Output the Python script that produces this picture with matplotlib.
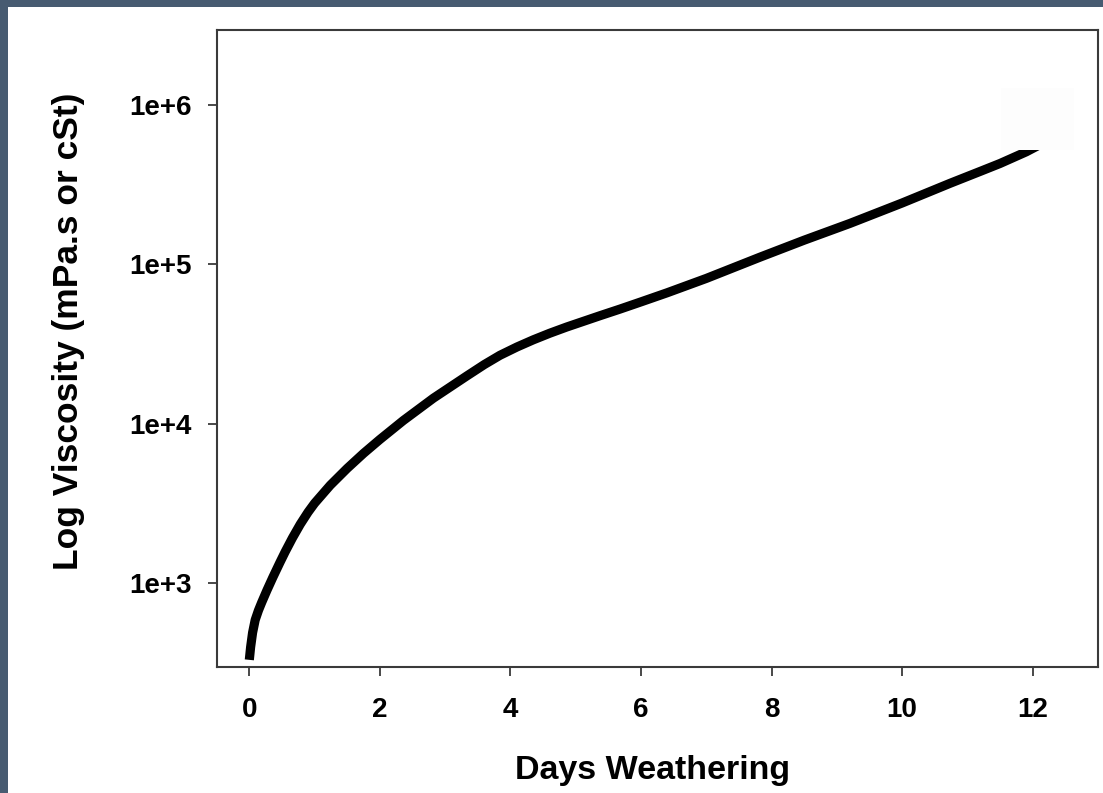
import matplotlib
matplotlib.use("Agg")
import matplotlib.pyplot as plt
from matplotlib.patches import Rectangle

# ---- data ----
days = [0.0, 0.02, 0.05, 0.09, 0.14, 0.19, 0.27, 0.36, 0.47, 0.55, 0.66, 0.78,
        0.9, 1.0, 1.24, 1.5, 1.75, 2.0, 2.36, 2.82, 3.33, 3.6, 3.84, 4.1, 4.35,
        4.6, 4.86, 5.37, 5.68, 6.0, 6.4, 7.0, 7.82, 8.5, 9.2, 10.0, 10.73, 11.2,
        11.5, 11.9, 12.2, 12.4]
viscosity = [331, 398, 490, 589, 676, 759, 904, 1089, 1354, 1578, 1923, 2344,
             2793, 3177, 4121, 5260, 6531, 7980, 10500, 14490, 19950, 23550,
             26920, 30340, 33650, 36980, 40460, 47640, 52480, 58210, 66370,
             81660, 110900, 141900, 180700, 242700, 322000, 383700, 429500,
             508000, 589000, 660000]

y_ticks = [1e3, 1e4, 1e5, 1e6]
y_tick_labels = ["1e+3", "1e+4", "1e+5", "1e+6"]
x_ticks = [0, 2, 4, 6, 8, 10, 12]
x_tick_labels = ["0", "2", "4", "6", "8", "10", "12"]

x_label = "Days Weathering"
y_label = "Log Viscosity (mPa.s or cSt)"

# ---- figure ----
plt.rcParams['font.family'] = ['Liberation Sans', 'DejaVu Sans']
W, H = 1103, 793
fig = plt.figure(figsize=(W / 100, H / 100), dpi=100)
fig.patch.set_facecolor("white")

border = "#475b71"
# top and left frame bands
fig.patches.append(Rectangle((0, 1 - 7 / H), 1, 7 / H, transform=fig.transFigure,
                             facecolor=border, edgecolor="none", zorder=-1))
fig.patches.append(Rectangle((0, 0), 8 / W, 1, transform=fig.transFigure,
                             facecolor=border, edgecolor="none", zorder=-1))

left, right, top, bottom = 217, 1098, 30, 667
ax = fig.add_axes([left / W, 1 - bottom / H, (right - left) / W, (bottom - top) / H])

ax.plot(days, viscosity, color="black", lw=6.6, solid_capstyle="butt",
        solid_joinstyle="round")
ax.set_yscale("log")
ax.set_xlim(-0.495, 13.0)
ax.set_ylim(10 ** 2.475, 10 ** 6.47)

ax.set_xticks(x_ticks)
ax.set_xticklabels(x_tick_labels)
ax.set_yticks(y_ticks)
ax.set_yticklabels(y_tick_labels)
ax.yaxis.set_minor_locator(matplotlib.ticker.NullLocator())

for s in ax.spines.values():
    s.set_color("#3a3a3a")
    s.set_linewidth(1.5)

ax.tick_params(axis="both", direction="out", length=6.5, width=1.3, color="#3a3a3a",
               labelsize=20)
ax.tick_params(axis="x", pad=15)
ax.tick_params(axis="y", pad=12)
for lab in ax.get_xticklabels() + ax.get_yticklabels():
    lab.set_fontweight("bold")

fig.text(653 / W, 1 - 770 / H, x_label, ha="center", va="center",
         fontsize=24.5, fontweight="bold")
fig.text(69 / W, 1 - 331 / H, y_label, ha="center", va="center", rotation=90,
         fontsize=25.5, fontweight="bold")

# faint near-white box in upper right
ax.add_patch(Rectangle((0.890, 0.8116), 0.083, 0.0973, transform=ax.transAxes,
                       facecolor="#fdfdfd", edgecolor="none", zorder=5))

fig.savefig("out.png", dpi=100, facecolor="white")
